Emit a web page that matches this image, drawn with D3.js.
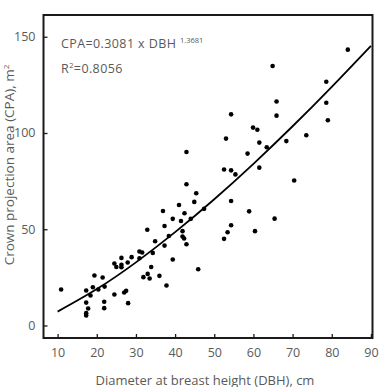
<!DOCTYPE html>
<html>
<head>
<meta charset="utf-8">
<script src="https://cdn.jsdelivr.net/npm/d3@7"></script>
<style>
  body { margin: 0; background: #fff; }
  text { font-family: "Open Sans", "Noto Sans", sans-serif; }
</style>
</head>
<body>
<div id="chart"></div>
<script>
// observed trees: DBH (cm) and crown projection area (m2)
var dbh = [10.9, 17.3, 17.3, 17.3, 17.3, 17.8, 18.4, 19.0, 19.4, 20.4,
  21.5, 22.0, 21.9, 21.9, 24.5, 25.0, 24.5, 26.3, 26.3, 26.3,
  27.0, 27.5, 27.9, 28.0, 28.9, 30.9, 30.9, 31.6, 31.9, 32.9,
  33.0, 33.5, 33.9, 34.3, 34.9, 36.0, 36.9, 37.3, 37.3, 37.8,
  38.4, 39.4, 39.4, 41.0, 41.5, 41.9, 41.9, 42.3, 42.4, 42.9,
  42.9, 42.9, 44.0, 44.9, 45.4, 45.9, 47.4, 52.5, 52.5, 53.0,
  53.4, 54.3, 54.3, 54.3, 54.3, 55.4, 58.5, 58.9, 59.9, 60.4,
  61.0, 61.5, 61.5, 63.4, 64.9, 65.4, 65.9, 65.9, 68.4, 70.4,
  73.5, 78.6, 78.6, 79.0, 84.1];
var cpa = [18.7, 18.2, 11.9, 6.4, 5.2, 8.8, 15.6, 19.9, 26.0, 18.7,
  24.9, 20.2, 12.3, 9.0, 32.2, 30.4, 16.1, 35.1, 31.5, 30.3,
  17.1, 18.0, 32.7, 11.6, 35.5, 34.9, 38.4, 37.9, 25.1, 49.7,
  26.8, 24.4, 30.4, 37.7, 43.8, 25.8, 59.5, 51.7, 41.5, 20.8,
  46.5, 55.4, 34.3, 62.6, 54.3, 49.0, 46.2, 45.2, 58.3, 90.1,
  73.4, 42.2, 55.4, 64.2, 68.7, 29.2, 60.6, 81.0, 45.0, 97.1,
  48.4, 109.7, 80.6, 64.7, 52.1, 78.5, 89.3, 59.3, 102.8, 49.0,
  101.7, 95.0, 82.0, 92.6, 134.8, 55.5, 116.4, 109.0, 95.8, 75.3,
  98.8, 126.6, 115.7, 106.6, 143.3];

// fitted line
var fitX = [10, 20, 30, 40, 50, 60, 70, 80, 90];
var fitY = [7.2, 18.9, 32.8, 48.5, 65.6, 84.0, 103.5, 124.0, 145.3];

var xTicks = [10, 20, 30, 40, 50, 60, 70, 80, 90];
var yTicks = [0, 50, 100, 150];

(function () {
  var width = 387, height = 387;
  var m = { left: 43.5, right: 372.5, top: 15, bottom: 338 };
  var grey = "#5a5a5a";

  var svg = d3.select("#chart").append("svg")
    .attr("width", width).attr("height", height);

  var x = d3.scaleLinear().domain([6.4, 90.4]).range([m.left, m.right]);
  var y = d3.scaleLinear().domain([-6.5, 161.3]).range([m.bottom, m.top]);

  // frame
  svg.append("rect")
    .attr("x", m.left).attr("y", m.top)
    .attr("width", m.right - m.left).attr("height", m.bottom - m.top)
    .attr("fill", "none").attr("stroke", "#1a1a1a").attr("stroke-width", 2);

  var xAxis = svg.append("g")
    .attr("transform", "translate(0," + m.bottom + ")")
    .call(d3.axisBottom(x).tickValues(xTicks).tickSizeInner(-4).tickSizeOuter(0).tickPadding(10));
  var yAxis = svg.append("g")
    .attr("transform", "translate(" + m.left + ",0)")
    .call(d3.axisLeft(y).tickValues(yTicks).tickSizeInner(-4).tickSizeOuter(0).tickPadding(8));

  [xAxis, yAxis].forEach(function (g) {
    g.select(".domain").remove();
    g.selectAll(".tick line").attr("stroke", "#1a1a1a").attr("stroke-width", 1.3);
    g.selectAll(".tick text").attr("fill", grey).style("font-size", "12.5px");
  });

  // points
  svg.append("g").selectAll("circle")
    .data(dbh)
    .enter().append("circle")
    .attr("cx", function (d) { return x(d); })
    .attr("cy", function (d, i) { return y(cpa[i]); })
    .attr("r", 2.3)
    .attr("fill", "#000");

  // fit curve
  var line = d3.line()
    .x(function (d) { return x(d); })
    .y(function (d, i) { return y(fitY[i]); })
    .curve(d3.curveNatural);
  svg.append("path")
    .attr("d", line(fitX))
    .attr("fill", "none").attr("stroke", "#000").attr("stroke-width", 1.8);

  // equation
  var eq = svg.append("text")
    .attr("x", 61).attr("y", 48)
    .attr("fill", grey).style("font-size", "12.5px")
    .style("letter-spacing", "0.4px");
  eq.append("tspan").text("CPA=0.3081 x DBH ");
  eq.append("tspan").attr("dy", -5).style("font-size", "7.5px")
    .style("letter-spacing", "0px").text("1.3681");

  var r2 = svg.append("text")
    .attr("x", 61).attr("y", 73)
    .attr("fill", grey).style("font-size", "12.5px")
    .style("letter-spacing", "0.4px");
  r2.append("tspan").text("R");
  r2.append("tspan").attr("dy", -5).style("font-size", "7.5px").text("2");
  r2.append("tspan").attr("dy", 5).text("=0.8056");

  // axis titles
  svg.append("text")
    .attr("x", 205).attr("y", 384.5)
    .attr("text-anchor", "middle")
    .attr("fill", grey).style("font-size", "13px")
    .text("Diameter at breast height (DBH), cm");

  var yl = svg.append("text")
    .attr("transform", "translate(13.5,165) rotate(-90)")
    .attr("text-anchor", "middle")
    .attr("fill", grey).style("font-size", "13.5px");
  yl.append("tspan").text("Crown projection area (CPA), m");
  yl.append("tspan").attr("dy", -5).style("font-size", "8px").text("2");
})();
</script>
</body>
</html>
